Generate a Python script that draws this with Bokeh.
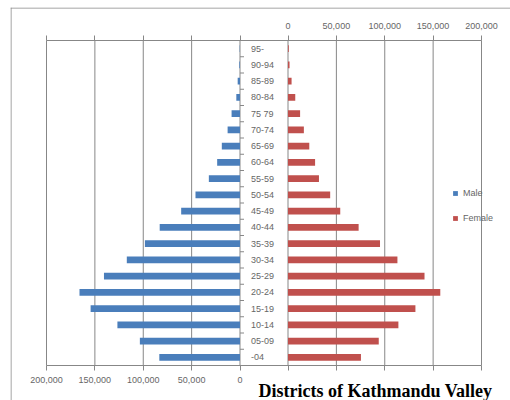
from bokeh.plotting import figure
from bokeh.models import (Range1d, LinearAxis, FixedTicker, NumeralTickFormatter,
                          Legend, LegendItem, Label, Span)
from bokeh.core.properties import value
from bokeh.embed import file_html
from bokeh.resources import INLINE

# Population by five-year age group, Kathmandu Valley districts
age_groups = ["-04", "05-09", "10-14", "15-19", "20-24", "25-29", "30-34", "35-39",
              "40-44", "45-49", "50-54", "55-59", "60-64", "65-69", "70-74", "75 79",
              "80-84", "85-89", "90-94", "95-"]
male = [83400, 103500, 126700, 154400, 165900, 140600, 117000, 98300,
        83000, 60800, 46000, 32200, 23600, 18800, 12800, 8700,
        3800, 2400, 700, 300]
female = [75400, 93800, 114100, 131700, 157400, 141100, 113100, 95100,
          73000, 54000, 43600, 32000, 28000, 22000, 16400, 12500,
          7500, 3700, 1600, 800]
value_ticks = [0, 50000, 100000, 150000, 200000]

W, H = 510, 400
idx = list(range(len(age_groups)))
n = len(age_groups)

# page layout (pixels): the two halves share one scale, with a band between them
K = 200000 / 193.5          # people per pixel
MALE_ZERO, FEMALE_ZERO = 239.5, 287.5
ROW, TOP = 16.25, 40.0      # row pitch and top of the bar area

def f_at(px):               # female-axis value at a horizontal pixel
    return (px - FEMALE_ZERO) * K

def m_at(px):               # male-axis value at a horizontal pixel
    return (MALE_ZERO - px) * K

def y_at(py):               # row coordinate at a vertical pixel
    return (n - 0.5) + (TOP - py) / ROW

LEFT, TOP_EDGE = 10, 7
p = figure(width=W, height=H, output_backend="svg", toolbar_location=None,
           x_axis_location=None, y_axis_location=None,
           x_range=Range1d(f_at(LEFT), f_at(W)),
           y_range=Range1d(y_at(H), y_at(TOP_EDGE)),
           min_border_left=LEFT, min_border_right=0,
           min_border_top=TOP_EDGE, min_border_bottom=0)
p.outline_line_color = None
p.background_fill_color = "white"
p.border_fill_color = "white"
p.grid.visible = False
p.extra_x_ranges = {"male": Range1d(m_at(LEFT), m_at(W))}

GRID = "#878787"
LABEL = "#666666"

# chart area border
p.add_layout(Span(location=f_at(LEFT + 0.5), dimension="height", line_color=GRID, line_width=1))
p.add_layout(Span(location=y_at(TOP_EDGE + 0.5), dimension="width", line_color=GRID, line_width=1))

# vertical grid lines of both halves, spanning the bar area only
lo, hi = -0.5, n - 0.5
p.segment(x0=value_ticks, x1=value_ticks, y0=lo, y1=hi, x_range_name="male",
          line_color=GRID, line_width=1)
p.segment(x0=value_ticks, x1=value_ticks, y0=lo, y1=hi,
          line_color=GRID, line_width=1)

def half_axis(rng, where, loc, standoff):
    # ticks of the other half are drawn unlabelled
    other = [-(v + (FEMALE_ZERO - MALE_ZERO) * K) for v in value_ticks]
    kw = {} if rng is None else {"x_range_name": rng}
    ax = LinearAxis(ticker=FixedTicker(ticks=value_ticks + other),
                    formatter=NumeralTickFormatter(format="0,0"),
                    major_label_overrides={t: "" for t in other},
                    bounds=(other[-1] - 100, 200000 + 100),
                    fixed_location=loc,
                    axis_line_color=GRID, major_tick_line_color=GRID,
                    major_tick_in=0, major_tick_out=5,
                    minor_tick_line_color=None,
                    major_label_standoff=standoff,
                    major_label_text_font="Liberation Sans",
                    major_label_text_font_size="9px",
                    major_label_text_color=LABEL, **kw)
    p.add_layout(ax, where)

half_axis("male", "below", lo, 6)
half_axis(None, "above", hi, 7)

male_r = p.hbar(y=idx, left=0, right=male, height=0.43, x_range_name="male",
                fill_color="#4a7ebb", line_color=None)
female_r = p.hbar(y=idx, left=0, right=female, height=0.43,
                  fill_color="#c0504d", line_color=None)

# category axis along the male zero line, ticks between groups
p.ray(x=0, y=[i + 0.5 for i in range(-1, n)], length=4, angle=0,
      length_units="screen", x_range_name="male", line_color=GRID, line_width=1)
p.text(x=0, y=idx, text=age_groups, x_range_name="male", x_offset=11,
       text_align="left", text_baseline="middle",
       text_font=value("Liberation Sans"), text_font_size="9px", text_color=LABEL)

legend = Legend(items=[LegendItem(label="Male", renderers=[male_r]),
                       LegendItem(label="Female", renderers=[female_r])],
                location=(442, 177), orientation="vertical",
                glyph_width=6, glyph_height=6, label_height=10, spacing=15,
                label_standoff=5, padding=0, margin=0,
                border_line_color=None, background_fill_alpha=0,
                label_text_font="Liberation Sans", label_text_font_size="9px",
                label_text_color=LABEL)
p.add_layout(legend, "center")

p.add_layout(Label(x=f_at(258), y=y_at(390),
                   text="Districts of Kathmandu Valley",
                   text_font="Liberation Serif", text_font_style="bold",
                   text_font_size="18px", text_baseline="alphabetic",
                   text_color="black"))

open("out.html", "w").write(file_html(p, INLINE))
